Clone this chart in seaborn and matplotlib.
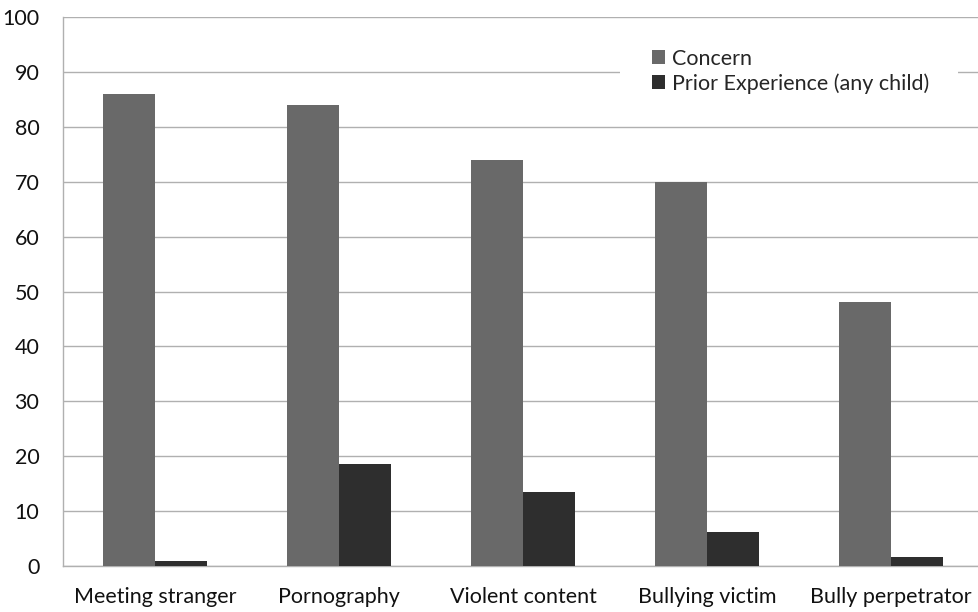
import matplotlib
matplotlib.use("Agg")
import matplotlib.pyplot as plt
import seaborn as sns
import pandas as pd
from matplotlib.patches import Patch, Rectangle

categories = ["Meeting stranger", "Pornography", "Violent content",
              "Bullying victim", "Bully perpetrator"]
concern = [86, 84, 74, 70, 48]
prior_experience = [0.9, 18.5, 13.5, 6.2, 1.6]
series_names = ["Concern", "Prior Experience (any child)"]
series_colors = ["#696969", "#2e2e2e"]
y_ticks = list(range(0, 101, 10))

df = pd.DataFrame({
    "category": categories * 2,
    "value": concern + prior_experience,
    "series": [series_names[0]] * len(categories) + [series_names[1]] * len(categories),
})

sns.set_style("white")
plt.rcParams["font.family"] = ["Lato", "DejaVu Sans"]

W, H = 979, 612
fig = plt.figure(figsize=(W / 100, H / 100), dpi=100)
ax = fig.add_axes([63 / W, 46 / H, 920 / W, 549 / H])

sns.barplot(data=df, x="category", y="value", hue="series",
            palette=series_colors, width=0.565, gap=0, saturation=1,
            linewidth=0, ax=ax, legend=False, zorder=3)

grid_color = "#b0b0b0"
ax.set_ylim(0, 100)
ax.set_xlim(-0.5, len(categories) - 0.5)
ax.set_yticks(y_ticks)
ax.set_yticklabels([str(t) for t in y_ticks], fontsize=15.5, color="#111111")
ax.yaxis.grid(True, color=grid_color, linewidth=1, zorder=0)
ax.set_axisbelow(True)

ax.set_xticks(range(len(categories)))
ax.set_xticklabels(categories, fontsize=15.5, color="#111111")
ax.set_xticks([i - 0.5 for i in range(len(categories) + 1)], minor=True)
ax.tick_params(axis="x", which="major", length=0, pad=15)
ax.tick_params(axis="x", which="minor", length=8, color=grid_color, width=1)
ax.tick_params(axis="y", which="major", length=8, color=grid_color, width=1, pad=9)

for side in ["top", "right"]:
    ax.spines[side].set_visible(False)
for side in ["left", "bottom"]:
    ax.spines[side].set_color(grid_color)
    ax.spines[side].set_linewidth(1)

ax.set_xlabel("")
ax.set_ylabel("")

# white legend panel that interrupts the gridline behind it
fig.add_artist(Rectangle((620 / W, 1 - 108 / H), 338 / W, 72 / H,
                         transform=fig.transFigure, facecolor="white",
                         edgecolor="none", zorder=4))

handles = [Patch(facecolor=c, edgecolor="none") for c in series_colors]
leg = fig.legend(handles, series_names, loc="upper left",
                 bbox_to_anchor=(652 / W, 1 - 49 / H),
                 bbox_transform=fig.transFigure, frameon=False,
                 fontsize=15.5, handlelength=0.62, handleheight=0.62,
                 handletextpad=0.3, labelspacing=0.2, borderpad=0,
                 borderaxespad=0)
leg.set_zorder(5)

fig.savefig("out.png", dpi=100, facecolor="white")
